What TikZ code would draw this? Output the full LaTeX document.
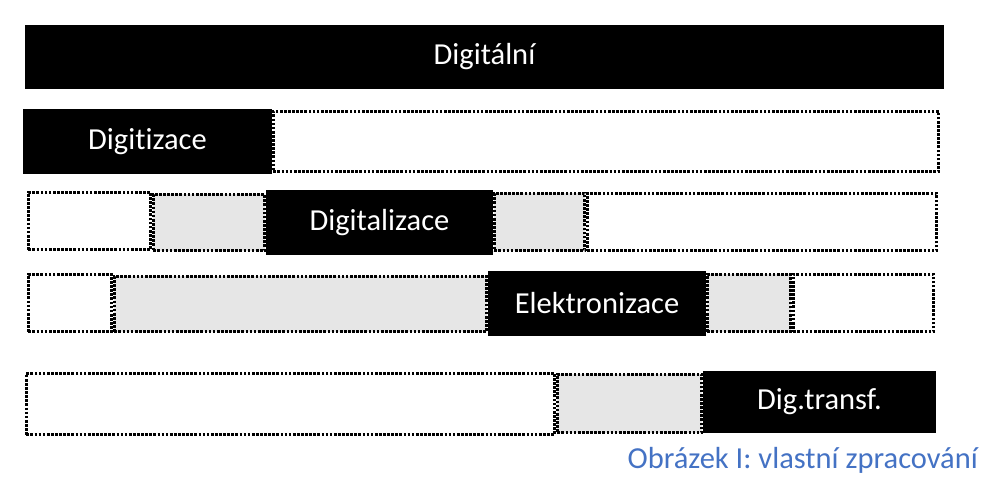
\documentclass[tikz,border=0pt]{standalone}
\usepackage{fontspec}
\setmainfont{Carlito}[Ligatures=CommonOff]
\usetikzlibrary{positioning}
\definecolor{lightfill}{HTML}{E6E6E6}
\definecolor{capblue}{HTML}{4472C4}

\begin{document}
\begin{tikzpicture}[x=1pt,y=-1pt,
        blk/.style={fill=black,text=white,inner sep=0pt,outer sep=0pt,anchor=north west,font=\fontsize{30.5}{34}\selectfont},
        dotbox/.style={draw,line width=2.7pt,dash pattern=on 2.7pt off 1.4pt,inner sep=0pt,outer sep=0pt,anchor=north west}]

                \useasboundingbox (0,0) rectangle (999,491);

                \node[blk,minimum width=919pt,minimum height=64pt] (digitalni) at (25,25) {Digitální};

                \node[blk,minimum width=249pt,minimum height=65pt] (digitizace) at (23,109) {Digitizace};

                \node[blk,minimum width=227pt,minimum height=65pt] (digitalizace) at (266,190) {Digitalizace};

                \node[blk,minimum width=218pt,minimum height=65pt] (elektronizace) at (488,271) {Elektronizace};

                \node[blk,minimum width=233pt,minimum height=62pt] (digtransf) at (703,371) {Dig.transf.};

                

                \foreach \name/\xa/\ya/\xb/\yb/\col in {digitizaceR/272/110/940/173/white,
                        digitalizaceA/27/191/152/251/white, digitalizaceB/152/193/266/252/lightfill,
                        digitalizaceD/493/192/586/252/lightfill, digitalizaceE/586/192/938/252/white,
                        elektronizaceA/27/273/113/333/white, elektronizaceB/113/275/488/333/lightfill,
                        elektronizaceD/706/273/792/333/lightfill, elektronizaceE/792/273/935/333/white,
                        digtransfA/25/372/556/436/white, digtransfB/556/373/703/434/lightfill}
                    {
                    \node[dotbox,fill=\col,minimum width={\xb-\xa-2.7},minimum height={\yb-\ya-2.7}] (\name) at ({\xa+1.35},{\ya+1.35}) {};
                    }

                

                \node[anchor=base east,text=capblue,font=\fontsize{30.5}{34}\selectfont,inner sep=0pt] (caption) at (978,468) {Obrázek I: vlastní zpracování};

            \end{tikzpicture}
\end{document}
